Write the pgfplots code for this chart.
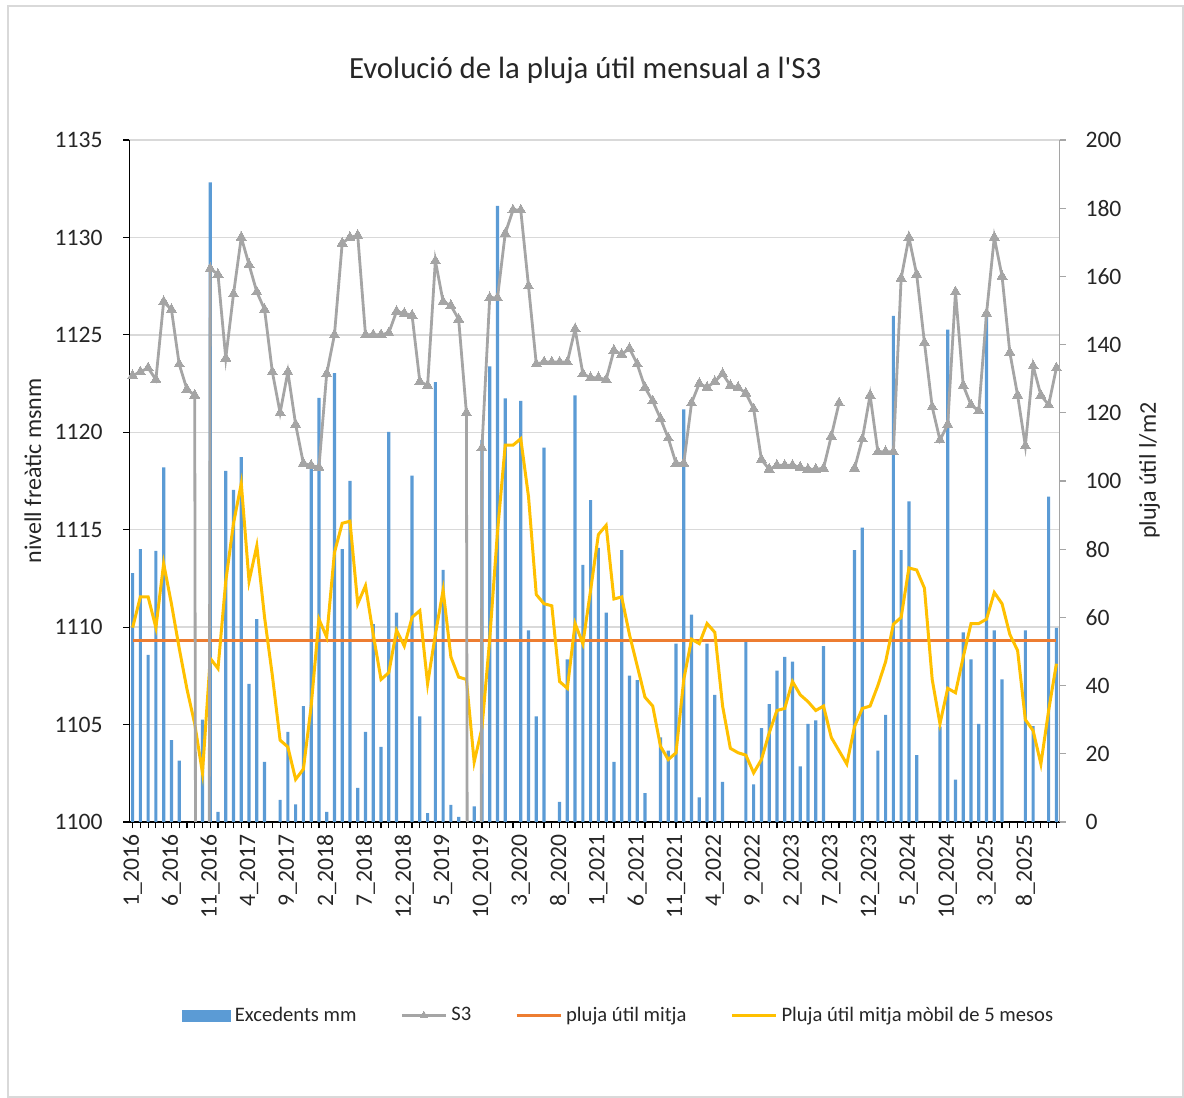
\documentclass[border=0pt]{standalone}
\usepackage{fontspec}
\setmainfont{Carlito}[Ligatures=TeXOff]
\usepackage{pgfplots}
\pgfplotsset{compat=1.18}
\usepackage{pgfplotstable}

\definecolor{barblue}{HTML}{5B9BD5}
\definecolor{s3gray}{HTML}{A5A5A5}
\definecolor{meanorange}{HTML}{ED7D31}
\definecolor{mayellow}{HTML}{FFC000}
\definecolor{gridgray}{HTML}{D9D9D9}
\definecolor{txt}{HTML}{262626}

\pgfplotstableread{
i bar s3 ma
0 73 1122.9 57
1 80 1123.1 66
2 49 1123.3 66
3 79.5 1122.7 57
4 104 1126.7 75.8
5 24 1126.3 64
6 18 1123.5 51
7 0 1122.2 39
8 0 1121.9 28.8
9 30 900 14.4
10 187.6 1128.4 48
11 3 1128.1 45
12 103 1123.8 70.6
13 97.4 1127.1 87.6
14 107 1130.0 99.3
15 40.5 1128.6 70.6
16 59.5 1127.2 81
17 17.6 1126.3 60
18 0 1123.1 43
19 6.5 1121.0 24
20 26.4 1123.1 22
21 5.2 1120.4 12.5
22 34 1118.4 15.5
23 104 1118.3 34
24 124.4 1118.2 59.5
25 3 1123.0 54.2
26 131.6 1125.0 79
27 80 1129.7 87.6
28 100 1130.0 88.2
29 10 1130.1 64
30 26.4 1125.0 69.3
31 58 1125.0 55
32 22 1125.0 41.8
33 114.4 1125.1 43.8
34 61.4 1126.2 56.2
35 0 1126.1 51.6
36 101.6 1126.0 60
37 31 1122.6 62
38 2.6 1122.4 40.5
39 129 1128.8 55
40 73.9 1126.7 68
41 5 1126.5 48.4
42 1.5 1125.8 42.5
43 0 1121.0 41.8
44 4.6 900 17.6
45 112 1119.2 27.5
46 133.6 1126.9 53.6
47 180.7 1126.9 85
48 124.2 1130.2 110.5
49 0 1131.4 110.5
50 123.5 1131.4 112.4
51 56.2 1127.5 95.4
52 31 1123.5 66.7
53 109.8 1123.6 64
54 0 1123.6 63.4
55 5.9 1123.6 41.2
56 47.7 1123.6 39.2
57 125.1 1125.3 58.2
58 75.4 1123.0 52.3
59 94.4 1122.8 68
60 80.4 1122.8 84.3
61 61.4 1122.7 87
62 17.6 1124.2 65.4
63 79.7 1124.0 66
64 42.9 1124.3 55
65 41.6 1123.5 45.8
66 8.5 1122.3 36.6
67 0 1121.6 34
68 24.8 1120.7 22.2
69 20.9 1119.7 18.3
70 52.3 1118.4 20.3
71 121 1118.4 41.8
72 60.8 1121.5 53.6
73 7.2 1122.5 52.3
74 52.3 1122.3 58.2
75 37.3 1122.6 55.6
76 11.8 1123.0 34
77 0 1122.4 21.6
78 0 1122.3 20.3
79 53 1122.0 19.6
80 11 1121.2 14.4
81 27.5 1118.6 18.3
82 34.6 1118.1 26.1
83 44.4 1118.3 32.7
84 48.4 1118.3 33.3
85 47 1118.3 41.2
86 16.3 1118.2 37.3
87 28.8 1118.1 35.3
88 29.8 1118.1 32.7
89 51.6 1118.15 34
90 0 1119.8 24.8
91 0 1121.5 20.9
92 0 nan 17
93 79.7 1118.15 28
94 86.3 1119.65 33.3
95 0 1121.9 34
96 20.9 1119.0 40
97 31.4 1119.0 47
98 148.4 1119.0 58
99 79.7 1127.9 60
100 94 1130.0 74.5
101 19.6 1128.1 73.9
102 0 1124.6 68.6
103 0 1121.3 41.8
104 28 1119.6 28.8
105 144.4 1120.4 39.2
106 12.4 1127.2 37.9
107 55.6 1122.4 48.4
108 47.7 1121.4 58.2
109 28.8 1121.1 58.2
110 149.7 1126.1 59.5
111 56.2 1130.0 67.3
112 41.8 1128.0 64
113 0 1124.1 55
114 0 1121.9 50.3
115 56.2 1119.3 30
116 28.1 1123.4 26.8
117 0 1121.9 17
118 95.4 1121.4 32.7
119 56.9 1123.3 46.4
}\data

\pgfplotsset{
  common/.style={
    width=465bp, height=341bp, scale only axis,
    at={(0bp,0bp)}, anchor=south west,
    xmin=-0.4, xmax=119.4,
    tick label style={font=\fontsize{11.8bp}{14bp}\selectfont, text=txt},
    label style={font=\fontsize{12bp}{14bp}\selectfont, text=txt},
    /pgf/number format/1000 sep={},
    /pgf/number format/assume math mode=true,
  },
  mylinelegend/.style={legend image code/.code={\draw[##1] (0bp,0bp) -- (22bp,0bp);}},
  mymarklegend/.style={legend image code/.code={\draw[##1, mark size=2.2bp, mark repeat=2, mark phase=2] plot coordinates {(0bp,0bp) (11bp,0bp) (22bp,0bp)};}},
  mybarlegend/.style={legend image code/.code={\fill[barblue] (0bp,-2.75bp) rectangle (24bp,2.75bp);}},
}

\begin{document}
\begin{tikzpicture}
\useasboundingbox (-64.75bp,-138bp) rectangle (527.25bp,411bp);
\draw[gridgray, line width=0.6bp] (-60.75bp,-137.5bp) rectangle (526.75bp,408bp);

% background axis: grid, left axis, x axis, title
\begin{axis}[common,
  ymin=1100, ymax=1135,
  ytick={1100,1105,...,1135},
  ymajorgrids, grid style={gridgray, line width=0.7bp},
  axis x line*=bottom, axis y line*=left,
  axis line style={black, line width=0.7bp},
  tick style={black, line width=0.6bp},
  major tick length=3bp, minor tick length=3bp,
  tick align=outside,
  xtick={0,5,...,115},
  minor xtick={0,...,119},
  xticklabels={1\_2016,6\_2016,11\_2016,4\_2017,9\_2017,2\_2018,7\_2018,12\_2018,5\_2019,10\_2019,3\_2020,8\_2020,1\_2021,6\_2021,11\_2021,4\_2022,9\_2022,2\_2023,7\_2023,12\_2023,5\_2024,10\_2024,3\_2025,8\_2025},
  xticklabel style={rotate=90, anchor=east},
  yticklabel style={xshift=-7bp},
  ylabel={nivell freàtic msnm},
  ylabel style={at={(axis description cs:-0.104,0.515)}, anchor=center},
  title={Evolució de la pluja útil mensual a l'S3},
  title style={at={(axis description cs:0.49,1.084)}, anchor=center, font=\fontsize{15.4bp}{18bp}\selectfont, text=txt},
]
\addplot[draw=none, forget plot] coordinates {(0,1100)};
\end{axis}

% secondary axis: bars, mean, moving average
\begin{axis}[common,
  ymin=0, ymax=200,
  ytick={0,20,...,200},
  axis y line*=right, axis x line=none,
  xtick=\empty,
  axis line style={s3gray, line width=0.7bp},
  ytick style={s3gray, line width=0.6bp},
  major tick length=3bp, tick align=outside,
  yticklabel style={xshift=6.5bp},
  ylabel={pluja útil l/m2},
  ylabel style={at={(axis description cs:1.097,0.515)}, anchor=center},
]
\addplot[ybar, bar width=1.6bp, fill=barblue, draw=none, forget plot] table[x=i, y=bar]{\data};
\addplot[meanorange, line width=1.5bp, forget plot] coordinates {(0,53.1) (119,53.1)};
\addplot[mayellow, line width=1.5bp, forget plot] table[x=i, y=ma]{\data};
\end{axis}

% S3 line on top, with legend
\begin{axis}[common,
  ymin=1100, ymax=1135,
  hide axis,
  legend columns=4,
  legend cell align=left,
  legend style={at={(axis description cs:0.527,-0.284)}, anchor=center,
    draw=none, fill=none, font=\fontsize{10.3bp}{12bp}\selectfont, text=txt,
    /tikz/every even column/.append style={column sep=20bp}},
]
\addlegendimage{mybarlegend}
\addlegendentry{Excedents mm}
\addplot[s3gray, line width=1.4bp, mark=triangle*, mark size=2.9bp,
  mark options={fill=s3gray, draw=s3gray, line width=0bp},
  unbounded coords=jump, mymarklegend]
  table[x=i, y=s3]{\data};
\addlegendentry{S3}
\addlegendimage{meanorange, line width=1.5bp, mylinelegend}
\addlegendentry{pluja útil mitja}
\addlegendimage{mayellow, line width=1.5bp, mylinelegend}
\addlegendentry{Pluja útil mitja mòbil de 5 mesos}
\end{axis}
\end{tikzpicture}
\end{document}
